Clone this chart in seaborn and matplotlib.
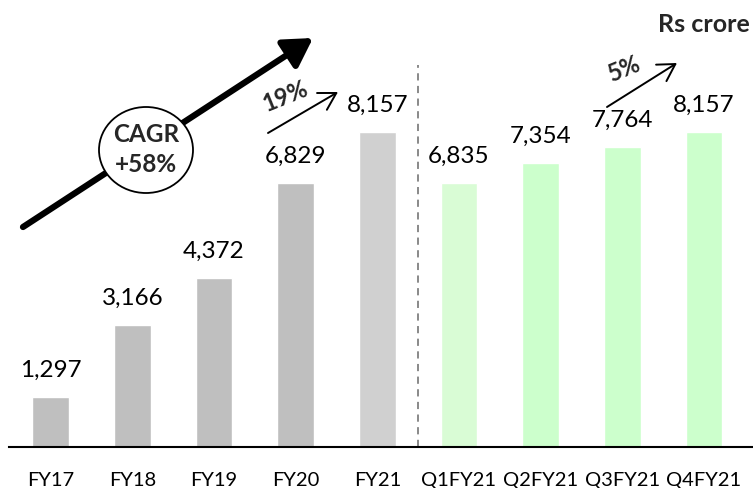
import matplotlib
matplotlib.use('Agg')
import matplotlib.pyplot as plt
import seaborn as sns
from matplotlib.patches import Ellipse, FancyArrowPatch

categories = ['FY17', 'FY18', 'FY19', 'FY20', 'FY21',
              'Q1FY21', 'Q2FY21', 'Q3FY21', 'Q4FY21']
values = [1297, 3166, 4372, 6829, 8157, 6835, 7354, 7764, 8157]
bar_colors = ['#bfbfbf', '#bfbfbf', '#bfbfbf', '#bfbfbf', '#d0d0d0',
              '#d9fcd5', '#ccffcc', '#ccffcc', '#ccffcc']

sns.set_style('white')
plt.rcParams['font.family'] = ['Lato', 'DejaVu Sans']

W, H = 753, 488
fig = plt.figure(figsize=(W / 100, H / 100), dpi=100)
ax = fig.add_axes([9 / W, 41.3 / H, 744 / W, 446.7 / H])

sns.barplot(x=categories, y=values, hue=categories, palette=bar_colors,
            legend=False, width=0.45, saturation=1, ax=ax)
ax.set_xlim(-0.51, 8.6)
ax.set_ylim(0, 11578)

for i, v in enumerate(values):
    ax.annotate(f'{v:,}', (i, v), xytext=(0, 19), textcoords='offset points',
                ha='center', va='center', fontsize=17.5, color='black')

# separator between annual and quarterly bars
ax.axvline(4.5, ymin=0, ymax=0.854, color='#808080', lw=1.3,
           linestyle=(0, (4, 3)))

sns.despine(ax=ax, left=True, top=True, right=True)
ax.spines['bottom'].set_color('black')
ax.spines['bottom'].set_linewidth(1.5)
ax.set_yticks([])
ax.set_xlabel('')
ax.set_ylabel('')
ax.tick_params(axis='x', length=0, pad=18, labelsize=14.5, labelcolor='black')

# overlay in pixel coordinates for the annotations
ov = fig.add_axes([0, 0, 1, 1])
ov.set_xlim(0, W)
ov.set_ylim(H, 0)
ov.axis('off')
ov.patch.set_alpha(0)

big = FancyArrowPatch((23, 227), (313, 38),
                      arrowstyle='-|>,head_length=0.85,head_width=0.5',
                      mutation_scale=20, lw=4.5, color='black',
                      shrinkA=0, shrinkB=0, zorder=2)
ov.add_patch(big)
ov.add_patch(Ellipse((146, 150), 94, 86, facecolor='white',
                     edgecolor='black', lw=1.3, zorder=3))
ov.text(146, 135, 'CAGR', ha='center', va='center', fontsize=17.5,
        fontweight='bold', zorder=4)
ov.text(146, 165, '+58%', ha='center', va='center', fontsize=17.5,
        fontweight='bold', zorder=4)

for start, end in [((268, 133), (338, 92)), ((607, 107), (677, 63))]:
    ov.add_patch(FancyArrowPatch(start, end,
                                 arrowstyle='->,head_length=0.6,head_width=0.35',
                                 mutation_scale=20, lw=1.4, color='black',
                                 shrinkA=0, shrinkB=0))
ov.text(285, 96, '19%', ha='center', va='center', fontsize=17,
        fontweight='bold', rotation=22)
ov.text(624, 69, '5%', ha='center', va='center', fontsize=17,
        fontweight='bold', rotation=22)
ov.text(750, 25, 'Rs crore', ha='right', va='center', fontsize=18,
        fontweight='bold')

fig.savefig('out.png', dpi=100)
